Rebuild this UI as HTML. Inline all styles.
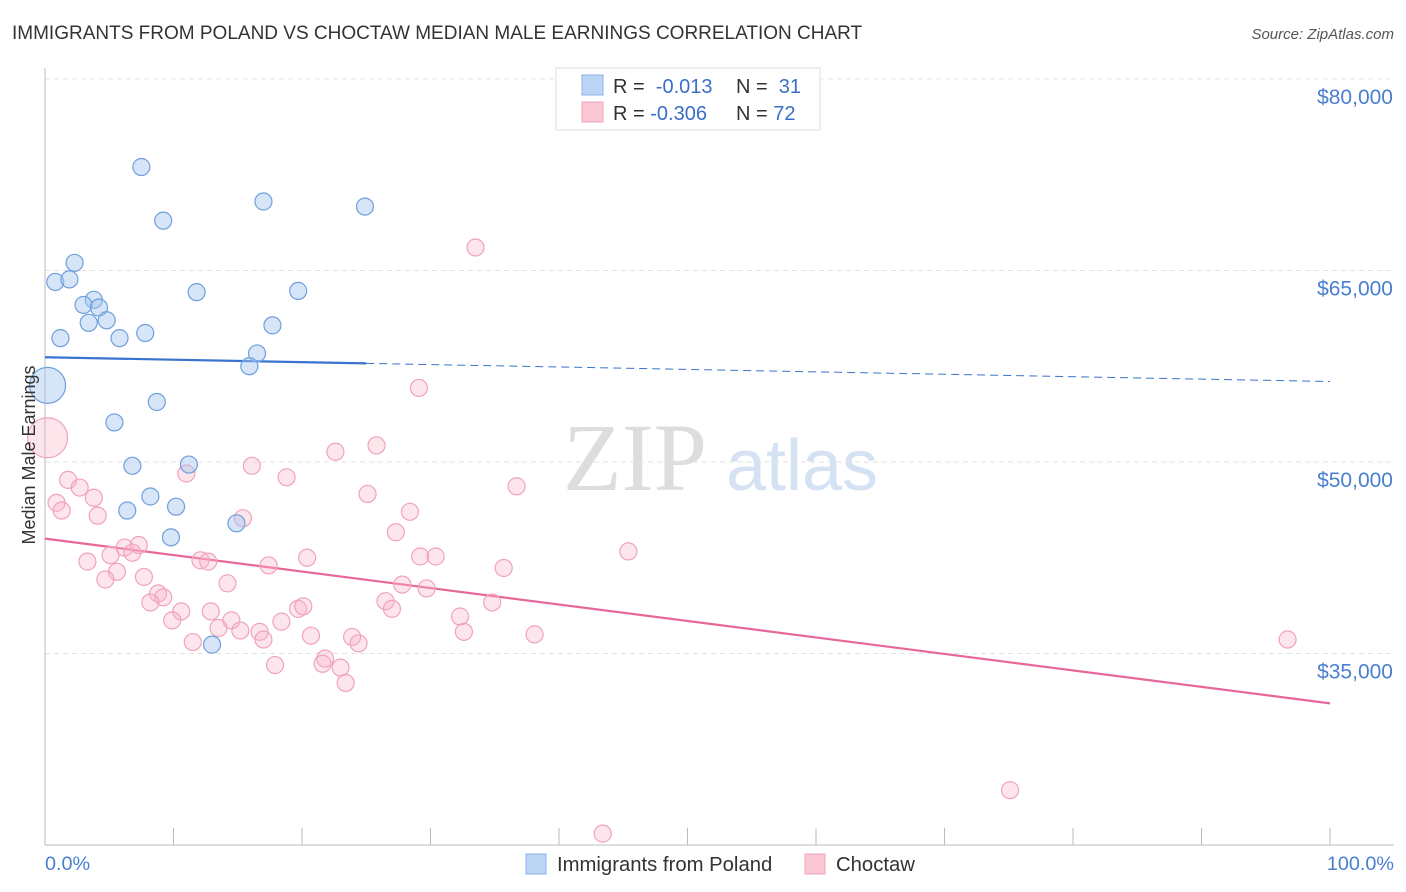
<!DOCTYPE html>
<html><head><meta charset="utf-8"><style>
body{margin:0;background:#fff;font-family:"Liberation Sans",sans-serif;}
svg{display:block}
</style></head><body>
<svg id="chart" width="1406" height="892">
<text x="12" y="39" font-size="19" fill="#333">IMMIGRANTS FROM POLAND VS CHOCTAW MEDIAN MALE EARNINGS CORRELATION CHART</text>
<text x="1394" y="39" font-size="15" fill="#555" font-style="italic" text-anchor="end">Source: ZipAtlas.com</text>
<g>
<text x="635" y="490" font-size="96" fill="#ddd" font-family="Liberation Serif,serif" text-anchor="middle">ZIP</text>
<text x="802" y="490" font-size="72" fill="#d5e2f3" text-anchor="middle">atlas</text>
</g>
<g id="grid"></g><g id="axes"></g><g id="trend"></g><g id="pts"></g>
<text transform="translate(35,455) rotate(-90)" font-size="18" fill="#333" text-anchor="middle">Median Male Earnings</text>
<text x="45" y="870" font-size="19.8" fill="#4a7fd0">0.0%</text>
<text x="1394" y="870" font-size="19.8" fill="#4a7fd0" text-anchor="end">100.0%</text>
<g>
<rect x="556" y="68" width="264" height="62" fill="#fff" stroke="#ddd"/>
<rect x="582" y="75" width="21" height="20" fill="#bcd5f5" stroke="#8ab2e8"/>
<rect x="582" y="102" width="21" height="20" fill="#fcc8d6" stroke="#f0a0b8"/>
<text x="613" y="93" font-size="20" fill="#333">R = <tspan fill="#3a6fc8">&#160;-0.013</tspan></text>
<text x="736" y="93" font-size="20" fill="#333">N = <tspan fill="#3a6fc8">&#160;31</tspan></text>
<text x="613" y="120" font-size="20" fill="#333">R = <tspan fill="#3a6fc8">-0.306</tspan></text>
<text x="736" y="120" font-size="20" fill="#333">N = <tspan fill="#3a6fc8">72</tspan></text>
</g>
<g>
<rect x="526" y="854" width="20" height="20" fill="#bcd5f5" stroke="#8ab2e8"/>
<text x="557" y="871" font-size="20.3" fill="#333">Immigrants from Poland</text>
<rect x="805" y="854" width="20" height="20" fill="#fcc8d6" stroke="#f0a0b8"/>
<text x="836" y="871" font-size="20.3" fill="#333">Choctaw</text>
</g>
</svg>
<script>
const yTicks=[80000,65000,50000,35000];
const yTickLabels=["$80,000","$65,000","$50,000","$35,000"];
const blueX=[7.5,9.2,17.0,24.9,2.3,0.8,1.9,3.8,3.0,4.2,3.4,4.8,11.8,19.7,17.7,1.2,5.8,7.8,16.5,15.9,8.7,5.4,6.8,11.2,8.2,6.4,10.2,14.9,9.8,13.0,0.2];
const blueY=[73.1,68.9,70.4,70.0,65.6,64.1,64.3,62.7,62.3,62.1,60.9,61.1,63.3,63.4,60.7,59.7,59.7,60.1,58.5,57.5,54.7,53.1,49.7,49.8,47.3,46.2,46.5,45.2,44.1,35.7,56.0];
const pinkX=[33.5,29.1,25.8,22.6,16.1,18.8,11.0,1.8,2.7,25.1,36.7,3.8,0.9,1.3,4.1,15.4,28.4,27.3,45.4,5.1,6.2,6.8,7.3,3.3,12.1,12.7,20.4,29.2,30.4,35.7,17.4,5.6,4.7,7.7,14.2,27.8,29.7,26.5,27.0,8.8,9.2,8.2,10.6,12.9,9.9,14.5,19.7,20.1,32.3,34.8,13.5,15.2,16.7,17.0,18.4,20.7,23.9,24.4,32.6,38.1,11.5,21.8,21.6,23.0,17.9,23.4,96.7,75.1,43.4,0.2];
const pinkY=[66.8,55.8,51.3,50.8,49.7,48.8,49.1,48.6,48.0,47.5,48.1,47.2,46.8,46.2,45.8,45.6,46.1,44.5,43.0,42.7,43.3,42.9,43.5,42.2,42.3,42.2,42.5,42.6,42.6,41.7,41.9,41.4,40.8,41.0,40.5,40.4,40.1,39.1,38.5,39.7,39.4,39.0,38.3,38.3,37.6,37.6,38.5,38.7,37.9,39.0,37.0,36.8,36.7,36.1,37.5,36.4,36.3,35.8,36.7,36.5,35.9,34.6,34.2,33.9,34.1,32.7,36.1,24.3,20.9,51.9];
const blueTrend=[58.2,56.3];
const pinkTrend=[44.0,31.1];
const NS="http://www.w3.org/2000/svg";
const xs=p=>45+p*12.85;
const ys=v=>462-(v-50)*12.77;
function mk(parent,tag,attrs){const e=document.createElementNS(NS,tag);for(const k in attrs)e.setAttribute(k,attrs[k]);document.getElementById(parent).appendChild(e);return e;}
yTicks.forEach((t,i)=>{
 const y=ys(t/1000);
 const g=mk('grid','line',{x1:45,x2:1394,y1:y,y2:y,stroke:'#e2e2e2','stroke-dasharray':'5,4'});
 
 
 const l=mk('grid','text',{x:1393,y:y+25,'font-size':21,fill:'#4a7fd0','text-anchor':'end'});
 l.textContent=yTickLabels[i];
 
 
});
const ax=mk('axes','line',{x1:45,x2:1394,y1:845,y2:845,stroke:'#bbb'});


const ay=mk('axes','line',{x1:45,x2:45,y1:68,y2:845,stroke:'#bbb'});


for(let i=0;i<=10;i++){const t=mk('axes','line',{x1:xs(i*10),x2:xs(i*10),y1:828,y2:845,stroke:'#bbb'});
 
 }
function pt(x,y,r,fill,stroke,name){const c=mk('pts','circle',{cx:xs(x),cy:ys(y),r:r,fill:fill,stroke:stroke,'stroke-width':1.2});
 
 }
pinkX.forEach((x,i)=>pt(x,pinkY[i],i===pinkX.length-1?20:8.5,'rgba(248,180,200,0.35)','#f0a3bb','choctaw-point'));
blueX.forEach((x,i)=>pt(x,blueY[i],i===blueX.length-1?18:8.5,'rgba(165,198,240,0.45)','#6f9fdc','poland-point'));
const sx=25;
const b1=mk('trend','line',{x1:xs(0),y1:ys(blueTrend[0]),x2:xs(sx),y2:ys(blueTrend[0]+(blueTrend[1]-blueTrend[0])*sx/100),stroke:'#3a72d0','stroke-width':2.2});


const b2=mk('trend','line',{x1:xs(sx),y1:ys(blueTrend[0]+(blueTrend[1]-blueTrend[0])*sx/100),x2:xs(100),y2:ys(blueTrend[1]),stroke:'#3a72d0','stroke-width':1,'stroke-dasharray':'8,5'});


const p1=mk('trend','line',{x1:xs(0),y1:ys(pinkTrend[0]),x2:xs(100),y2:ys(pinkTrend[1]),stroke:'#e8679a','stroke-width':2.2});


</script>
</body></html>
